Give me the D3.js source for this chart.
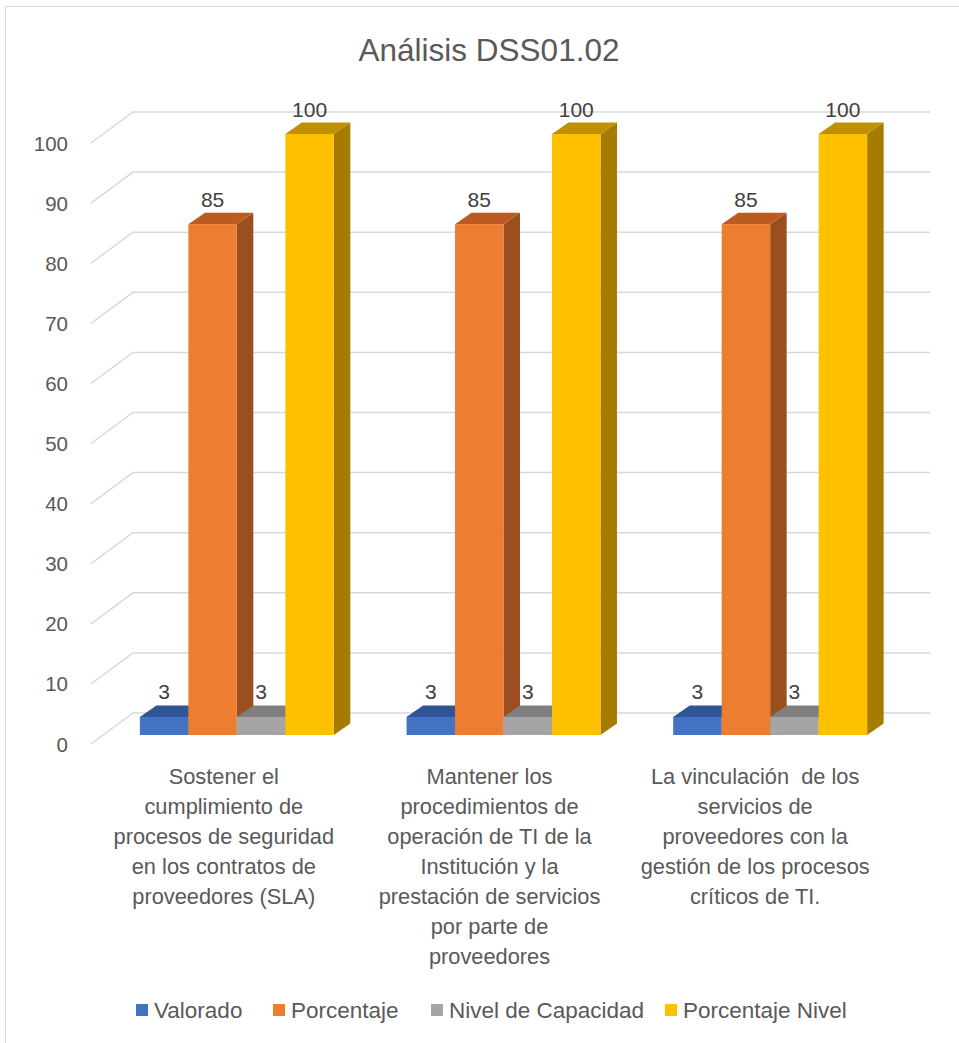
<!DOCTYPE html>
<html>
<head>
<meta charset="utf-8">
<script src="https://cdn.jsdelivr.net/npm/d3@7"></script>
<style>
  html, body { margin: 0; padding: 0; background: #fff; }
  svg { display: block; font-family: "Liberation Sans", Arial, sans-serif; }
</style>
</head>
<body>
<svg id="chart" width="959" height="1043"></svg>
<script>
// ---- data ----
const title = "Análisis DSS01.02";
const categories = ["cat1", "cat2", "cat3"];
const categoryLines = [
  ["Sostener el", "cumplimiento de", "procesos de seguridad", "en los contratos de", "proveedores (SLA)"],
  ["Mantener los", "procedimientos de", "operación de TI de la", "Institución y la", "prestación de servicios", "por parte de", "proveedores"],
  ["La vinculación  de los", "servicios de", "proveedores con la", "gestión de los procesos", "críticos de TI."]
];
const seriesNames = ["Valorado", "Porcentaje", "Nivel de Capacidad", "Porcentaje Nivel"];
const valorado = [3, 3, 3];
const porcentaje = [85, 85, 85];
const nivelCapacidad = [3, 3, 3];
const porcentajeNivel = [100, 100, 100];
const seriesValues = [valorado, porcentaje, nivelCapacidad, porcentajeNivel];
const yTicks = [0, 10, 20, 30, 40, 50, 60, 70, 80, 90, 100];

// ---- styles ----
const frontColors = ["#4472C4", "#ED7D31", "#A5A5A5", "#FFC000"];
const topColors   = ["#2F5597", "#BA5C22", "#7F7F7F", "#BF9000"];
const sideColors  = ["#2C4E8C", "#9B4F1F", "#6E6E6E", "#A67C00"];

const svg = d3.select("#chart");

// chart border
svg.append("rect").attr("x", 5.5).attr("y", 6.5).attr("width", 970).attr("height", 1050)
  .attr("fill", "#fff").attr("stroke", "#D9D9D9").attr("stroke-width", 1);

// title
svg.append("text").attr("x", 489).attr("y", 61).attr("text-anchor", "middle")
  .attr("font-size", 31.5).attr("fill", "#595959").text(title);

// ---- scales ----
const WALL_DX = -42, WALL_DY = 31;          // back wall -> front edge offset
const BAR_DX = 16.5, BAR_DY = -11.5;        // bar depth
const yBack = d3.scaleLinear().domain([0, 100]).range([713, 112]);
const yBar  = d3.scaleLinear().domain([0, 100]).range([735, 134]);
const x0 = d3.scaleBand().domain(categories).range([103.5, 903.5])
  .paddingInner(0.2727).paddingOuter(0.1364);
const x1 = d3.scaleBand().domain(seriesNames).range([0, x0.bandwidth()]);
const wallLeft = 133, wallRight = 930;
// category label positions along the front floor edge
const xFront = d3.scaleBand().domain(categories).range([wallLeft + WALL_DX, wallRight + WALL_DX]);

// gridlines (back wall + side wall)
const grid = svg.append("g");
yTicks.forEach(v => {
  const yb = yBack(v);
  grid.append("path")
    .attr("d", `M${wallLeft + WALL_DX},${yb + WALL_DY} L${wallLeft},${yb} L${wallRight},${yb}`)
    .attr("fill", "none").attr("stroke", "#D9D9D9").attr("stroke-width", 1.5);
  grid.append("text").attr("x", 68).attr("y", yb + WALL_DY)
    .attr("text-anchor", "end").attr("dominant-baseline", "central")
    .attr("font-size", 20.5).attr("fill", "#595959").text(v);
});

// bars
const bars = svg.append("g");
const y0 = yBar(0);
categories.forEach((c, ci) => {
  seriesNames.forEach((s, si) => {
    const v = seriesValues[si][ci];
    const x = x0(c) + x1(s), w = x1.bandwidth(), y = yBar(v);
    const g = bars.append("g");
    g.append("polygon")
      .attr("points", [[x + w, y], [x + w + BAR_DX, y + BAR_DY], [x + w + BAR_DX, y0 + BAR_DY], [x + w, y0]].map(p => p.join(",")).join(" "))
      .attr("fill", sideColors[si]);
    g.append("polygon")
      .attr("points", [[x, y], [x + BAR_DX, y + BAR_DY], [x + w + BAR_DX, y + BAR_DY], [x + w, y]].map(p => p.join(",")).join(" "))
      .attr("fill", topColors[si]);
    g.append("rect").attr("x", x).attr("y", y).attr("width", w).attr("height", y0 - y)
      .attr("fill", frontColors[si]);
  });
});
// data labels
const labels = svg.append("g");
categories.forEach((c, ci) => {
  seriesNames.forEach((s, si) => {
    const v = seriesValues[si][ci];
    labels.append("text")
      .attr("x", x0(c) + x1(s) + x1.bandwidth() / 2)
      .attr("y", yBar(v) + BAR_DY - 6)
      .attr("text-anchor", "middle").attr("font-size", 21).attr("fill", "#404040")
      .text(v);
  });
});

// category labels
const catG = svg.append("g");
categories.forEach((c, ci) => {
  const cx = xFront(c) + xFront.bandwidth() / 2;
  categoryLines[ci].forEach((line, li) => {
    catG.append("text").attr("x", cx).attr("y", 776 + li * 30)
      .attr("text-anchor", "middle").attr("dominant-baseline", "central")
      .attr("font-size", 21.8).attr("fill", "#595959")
      .attr("xml:space", "preserve").style("white-space", "pre").text(line);
  });
});

// legend
const legendX = [136, 273, 431, 665];
const leg = svg.append("g");
seriesNames.forEach((s, si) => {
  leg.append("rect").attr("x", legendX[si]).attr("y", 1004).attr("width", 12).attr("height", 12)
    .attr("fill", frontColors[si]);
  leg.append("text").attr("x", legendX[si] + 18).attr("y", 1010)
    .attr("dominant-baseline", "central").attr("font-size", 22.5).attr("fill", "#595959").text(s);
});
</script>
</body>
</html>
